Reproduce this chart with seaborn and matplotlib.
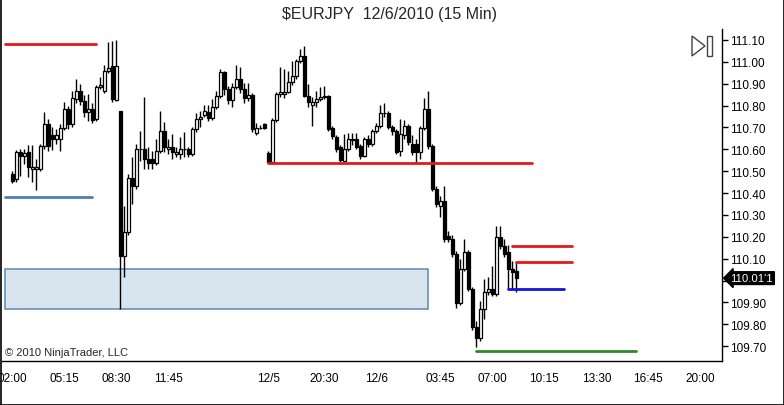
import numpy as np
import pandas as pd
import seaborn as sns
import matplotlib
matplotlib.use('Agg')
import matplotlib.pyplot as plt
from matplotlib.patches import Rectangle, Polygon
from matplotlib.lines import Line2D

# 15 min bars, $EURJPY (index 0 = 02:00)
opens = [110.487, 110.464, 110.588, 110.569, 110.588, 110.510, 110.510, 110.510, 110.615, 110.716,
         110.665, 110.647, 110.647, 110.697, 110.784, 110.716, 110.830, 110.867, 110.821, 110.771,
         110.784, 110.739, 110.885, 110.867, 110.958, 110.981, 110.826, 110.775, 110.112, 110.222,
         110.469, 110.432, 110.601, 110.601, 110.556, 110.556, 110.537, 110.592, 110.684, 110.601,
         110.611, 110.578, 110.578, 110.601, 110.601, 110.578, 110.693, 110.739, 110.757, 110.771,
         110.743, 110.794, 110.844, 110.954, 110.876, 110.826, 110.885, 110.922, 110.876, 110.835,
         110.848, 110.675, 110.697, 110.716, 110.583, 110.542, 110.734, 110.853, 110.853, 110.862,
         110.908, 110.935, 111.004, 111.027, 110.844, 110.803, 110.816, 110.830, 110.839, 110.844,
         110.697, 110.656, 110.611, 110.546, 110.601, 110.643, 110.647, 110.615, 110.569, 110.647,
         110.624, 110.684, 110.707, 110.766, 110.766, 110.702, 110.684, 110.592, 110.665, 110.707,
         110.624, 110.624, 110.588, 110.697, 110.784, 110.615, 110.418, 110.341, 110.363, 110.203,
         110.190, 110.121, 109.897, 110.052, 110.130, 109.961, 109.787, 109.737, 109.869, 109.947,
         109.961, 109.938, 110.199, 110.158, 110.130, 110.052, 110.043]
highs = [110.501, 110.597, 110.601, 110.601, 110.620, 110.620, 110.556, 110.624, 110.771, 110.739,
         110.702, 110.693, 110.716, 110.816, 110.798, 110.867, 110.922, 110.899, 110.848, 110.853,
         110.812, 110.894, 110.931, 110.986, 111.091, 111.095, 111.100, 110.775, 110.341, 110.487,
         110.565, 110.624, 110.684, 110.839, 110.611, 110.592, 110.647, 110.775, 110.725, 110.647,
         110.670, 110.611, 110.656, 110.679, 110.611, 110.702, 110.766, 110.775, 110.803, 110.803,
         110.830, 110.867, 110.967, 110.958, 110.890, 110.903, 110.986, 110.976, 110.903, 110.903,
         110.858, 110.720, 110.711, 110.720, 110.592, 110.743, 110.862, 110.976, 110.967, 110.958,
         111.004, 111.013, 111.059, 111.073, 110.899, 110.839, 110.867, 110.885, 110.890, 110.848,
         110.707, 110.665, 110.620, 110.670, 110.675, 110.675, 110.675, 110.624, 110.656, 110.665,
         110.693, 110.720, 110.803, 110.812, 110.775, 110.711, 110.693, 110.739, 110.734, 110.716,
         110.665, 110.647, 110.707, 110.835, 110.867, 110.624, 110.432, 110.386, 110.432, 110.226,
         110.208, 110.135, 110.098, 110.190, 110.139, 109.970, 109.815, 109.906, 110.007, 110.016,
         110.066, 110.249, 110.249, 110.190, 110.162, 110.089, 110.084]
lows = [110.446, 110.450, 110.478, 110.533, 110.473, 110.450, 110.414, 110.501, 110.601, 110.592,
        110.597, 110.624, 110.592, 110.688, 110.693, 110.702, 110.812, 110.803, 110.748, 110.729,
        110.720, 110.729, 110.876, 110.858, 110.949, 110.816, 110.821, 109.869, 110.016, 110.208,
        110.350, 110.418, 110.546, 110.510, 110.510, 110.510, 110.528, 110.583, 110.588, 110.578,
        110.556, 110.565, 110.556, 110.565, 110.565, 110.569, 110.679, 110.702, 110.748, 110.729,
        110.734, 110.784, 110.835, 110.848, 110.807, 110.794, 110.876, 110.858, 110.812, 110.821,
        110.679, 110.665, 110.693, 110.693, 110.537, 110.537, 110.725, 110.839, 110.835, 110.858,
        110.894, 110.922, 110.995, 110.839, 110.794, 110.707, 110.794, 110.821, 110.830, 110.684,
        110.647, 110.588, 110.542, 110.542, 110.592, 110.620, 110.601, 110.556, 110.565, 110.611,
        110.615, 110.675, 110.697, 110.748, 110.693, 110.665, 110.578, 110.569, 110.647, 110.620,
        110.574, 110.542, 110.556, 110.688, 110.601, 110.409, 110.336, 110.290, 110.176, 110.176,
        110.107, 109.874, 109.888, 110.043, 109.952, 109.773, 109.696, 109.723, 109.824, 109.933,
        109.929, 109.929, 110.144, 110.107, 109.961, 109.961, 109.947]
closes = [110.455, 110.588, 110.569, 110.583, 110.519, 110.519, 110.519, 110.615, 110.716, 110.615,
          110.647, 110.665, 110.697, 110.784, 110.716, 110.835, 110.867, 110.821, 110.771, 110.784,
          110.734, 110.885, 110.894, 110.958, 110.972, 110.830, 110.981, 110.112, 110.222, 110.469,
          110.432, 110.601, 110.601, 110.556, 110.537, 110.537, 110.592, 110.684, 110.611, 110.611,
          110.588, 110.588, 110.601, 110.601, 110.578, 110.693, 110.739, 110.748, 110.775, 110.743,
          110.794, 110.844, 110.954, 110.876, 110.826, 110.885, 110.922, 110.876, 110.835, 110.848,
          110.693, 110.697, 110.697, 110.697, 110.542, 110.734, 110.853, 110.862, 110.862, 110.908,
          110.935, 111.004, 111.027, 110.844, 110.816, 110.816, 110.830, 110.839, 110.844, 110.693,
          110.661, 110.601, 110.551, 110.601, 110.647, 110.647, 110.611, 110.569, 110.647, 110.624,
          110.684, 110.707, 110.766, 110.766, 110.702, 110.684, 110.588, 110.670, 110.707, 110.633,
          110.588, 110.588, 110.697, 110.784, 110.615, 110.418, 110.350, 110.363, 110.190, 110.190,
          110.121, 109.897, 110.052, 110.130, 109.961, 109.787, 109.737, 109.869, 109.947, 109.961,
          109.938, 110.199, 110.158, 110.121, 110.052, 110.039, 110.011]

tick_pos = [0, 13, 26, 39, 52, 64, 78, 91, 107, 120, 133, 146, 159, 172]
tick_labels = ['02:00', '05:15', '08:30', '11:45', '', '12/5', '20:30', '12/6',
               '03:45', '07:00', '10:15', '13:30', '16:45', '20:00']
price_ticks = [109.70, 109.80, 109.90, 110.00, 110.10, 110.20, 110.30, 110.40,
               110.50, 110.60, 110.70, 110.80, 110.90, 111.00, 111.10]

# horizontal levels drawn on the chart
level_start = [-1.8, -1.8, 64, 125, 126, 124, 116]
level_end = [20.9, 19.9, 130, 140, 140, 138, 156]
level_price = [111.08, 110.38, 110.537, 110.16, 110.085, 109.96, 109.677]
level_colors = ['#e31a1c', '#4a80b4', '#e31a1c', '#e31a1c', '#e31a1c', '#1515d8', '#2a8a2a']

# zone rectangle
zone_x = [-1.8, 104]
zone_price = [109.869, 110.052]
last_price_label = "110.01'1"

sns.set_style('white')
plt.rcParams['font.family'] = ['Liberation Sans', 'DejaVu Sans']

fig = plt.figure(figsize=(7.84, 4.06), dpi=100)
ax = fig.add_axes([2 / 784, 44 / 406, 720 / 784, 332 / 406])

idx = np.arange(len(closes))
o = np.array(opens)
c = np.array(closes)
up = c >= o

ax.add_patch(Rectangle((zone_x[0], zone_price[0]), zone_x[1] - zone_x[0],
                       zone_price[1] - zone_price[0], facecolor='#d8e4ee',
                       edgecolor='#5f87ab', lw=1.1, zorder=1))

ax.vlines(idx, lows, highs, color='black', lw=1, zorder=2)
ax.bar(idx[up], (c - o)[up], bottom=o[up], width=0.75, color='white',
       edgecolor='black', lw=0.9, zorder=3)
ax.bar(idx[~up], (c - o)[~up], bottom=o[~up], width=0.75, color='black',
       edgecolor='black', lw=0.9, zorder=3)

levels = pd.DataFrame({
    'level': [f'L{i}' for i in range(len(level_price)) for _ in range(2)],
    'x': [v for pair in zip(level_start, level_end) for v in pair],
    'price': [p for p in level_price for _ in range(2)],
})
sns.lineplot(data=levels, x='x', y='price', hue='level', estimator=None, sort=False,
             palette=dict(zip([f'L{i}' for i in range(len(level_price))], level_colors)),
             linewidth=2, legend=False, ax=ax, zorder=4)

ax.set_xlim(-2.6, 177.4)
ax.set_ylim(109.632, 111.150)
ax.set_xlabel('')
ax.set_ylabel('')
ax.set_xticks(tick_pos)
ax.set_xticklabels(tick_labels)
ax.yaxis.tick_right()
ax.set_yticks(price_ticks)
# the 110.00 label sits under the last-price marker
ax.set_yticklabels(['' if abs(p - 110.0) < 1e-9 else f'{p:.2f}' for p in price_ticks])
ax.tick_params(axis='both', direction='out', length=4, width=1, colors='black',
               labelsize=8.5, pad=2)
ax.tick_params(axis='x', pad=4)
for side in ['top', 'left']:
    ax.spines[side].set_visible(False)
for side in ['right', 'bottom']:
    ax.spines[side].set_color('black')
    ax.spines[side].set_linewidth(1)

ax.annotate(last_price_label, xy=(1.0, closes[-1]), xycoords=('axes fraction', 'data'),
            xytext=(6, 0), textcoords='offset points', ha='left', va='center',
            fontsize=8.2, color='white',
            bbox=dict(boxstyle='larrow,pad=0.12', fc='black', ec='black'),
            annotation_clip=False)

ax.text(0.004, 0.012, '\u00a9 2010 NinjaTrader, LLC', transform=ax.transAxes,
        fontsize=8, ha='left', va='bottom')

fig.text(0.497, 1 - 14 / 406, '\\$EURJPY  12/6/2010 (15 Min)', ha='center', va='center',
         fontsize=11.5)

# play-to-end icon
def fp(x, y):
    return (x / 784, 1 - y / 406)

fig.add_artist(Polygon([fp(692, 37), fp(692, 57), fp(705, 47)], closed=True,
                       fill=False, ec='#444444', lw=1, transform=fig.transFigure))
fig.add_artist(Rectangle(fp(707, 57), 5 / 784, 20 / 406, fill=False, ec='#444444',
                         lw=1, transform=fig.transFigure))

# outer frame
for xs, ys in [([0.5, 0.5], [0, 406]), ([783.5, 783.5], [0, 406]), ([0, 784], [405.5, 405.5])]:
    fig.add_artist(Line2D([x / 784 for x in xs], [1 - y / 406 for y in ys],
                          color='black', lw=1.2, transform=fig.transFigure))

fig.savefig('out.png', dpi=100)
